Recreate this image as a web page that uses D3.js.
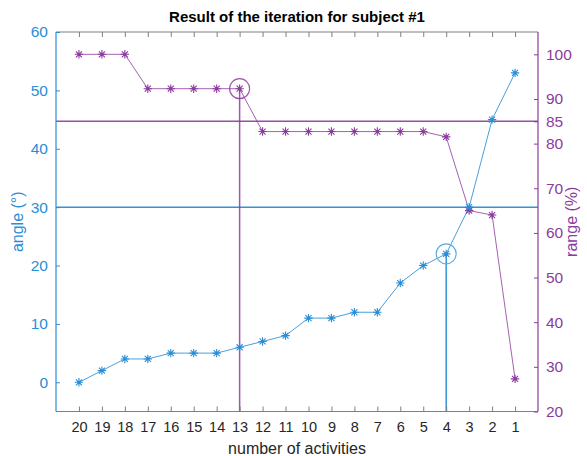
<!DOCTYPE html>
<html>
<head>
<meta charset="utf-8">
<script src="https://cdn.jsdelivr.net/npm/d3@7"></script>
<style>
  html, body { margin: 0; padding: 0; background: #fff; }
  svg { display: block; font-family: "Liberation Sans", Arial, Helvetica, sans-serif; }
</style>
</head>
<body>
<svg id="chart" width="587" height="456"></svg>
<script>
// Number of activities kept at each step (plotted right to left: 20 ... 1)
const activities = [20, 19, 18, 17, 16, 15, 14, 13, 12, 11, 10, 9, 8, 7, 6, 5, 4, 3, 2, 1];
// Angle (degrees) at each step
const angleValues = [0, 2, 4, 4, 5, 5, 5, 6, 7, 8, 11, 11, 12, 12, 17, 20, 22, 30, 45, 53];
// Range (%) at each step
const rangeValues = [100, 100, 100, 92.3, 92.3, 92.3, 92.3, 92.3, 82.7, 82.7, 82.7, 82.7, 82.7, 82.7, 82.7, 82.7, 81.5, 65, 64, 27.3];
// Thresholds and selected points
const angleThreshold = 30;
const rangeThreshold = 85;
const angleSelected = 4;
const rangeSelected = 13;
// Tick labels
const angleTicks = [0, 10, 20, 30, 40, 50, 60];
const rangeTicks = [20, 30, 40, 50, 60, 70, 80, 85, 90, 100];
const xTicks = activities;

const blue = "#2a8ed6";
const purple = "#8c3b9e";
const axisGray = "#808080";
const textDark = "#262626";

const svg = d3.select("#chart");
const plotL = 56, plotR = 538, plotT = 32, plotB = 411.5;

const x = d3.scaleLinear().domain([21, 0]).range([plotL, plotR]);
const yA = d3.scaleLinear().domain([-5, 60]).range([plotB, plotT]);
const yR = d3.scaleLinear().domain([20, 105]).range([plotB, plotT]);

// Threshold lines
svg.append("line").attr("x1", plotL).attr("x2", plotR)
  .attr("y1", yR(rangeThreshold)).attr("y2", yR(rangeThreshold))
  .attr("stroke", purple).attr("stroke-width", 1.5).attr("opacity", 0.9);
svg.append("line").attr("x1", plotL).attr("x2", plotR)
  .attr("y1", yA(angleThreshold)).attr("y2", yA(angleThreshold))
  .attr("stroke", blue).attr("stroke-width", 1.5).attr("opacity", 0.95);

// Drop lines from selected points
const ri = activities.indexOf(rangeSelected);
svg.append("line").attr("x1", x(rangeSelected)).attr("x2", x(rangeSelected))
  .attr("y1", yR(rangeValues[ri])).attr("y2", plotB)
  .attr("stroke", purple).attr("stroke-width", 1.5).attr("opacity", 0.85);
const ai = activities.indexOf(angleSelected);
svg.append("line").attr("x1", x(angleSelected)).attr("x2", x(angleSelected))
  .attr("y1", yA(angleValues[ai])).attr("y2", plotB)
  .attr("stroke", blue).attr("stroke-width", 1.5).attr("opacity", 0.95);

// Series lines
const lineA = d3.line().x((d, i) => x(activities[i])).y(d => yA(d));
const lineR = d3.line().x((d, i) => x(activities[i])).y(d => yR(d));
svg.append("path").datum(rangeValues).attr("d", lineR)
  .attr("fill", "none").attr("stroke", purple).attr("stroke-width", 1).attr("opacity", 0.8);
svg.append("path").datum(angleValues).attr("d", lineA)
  .attr("fill", "none").attr("stroke", blue).attr("stroke-width", 1).attr("opacity", 0.85);

// Asterisk markers
const s = 4.2, d = s * 0.72;
const asterisk = `M${-s},0L${s},0M0,${-s}L0,${s}M${-d},${-d}L${d},${d}M${-d},${d}L${d},${-d}`;
function markers(values, scale, color) {
  svg.append("g").selectAll("path").data(values).join("path")
    .attr("transform", (v, i) => `translate(${x(activities[i])},${scale(v)})`)
    .attr("d", asterisk)
    .attr("fill", "none").attr("stroke", color).attr("stroke-width", 1.1);
  svg.append("g").selectAll("circle").data(values).join("circle")
    .attr("cx", (v, i) => x(activities[i])).attr("cy", v => scale(v))
    .attr("r", 1.4).attr("fill", color);
}
markers(rangeValues, yR, purple);
markers(angleValues, yA, blue);

// Circles around the selected points
svg.append("circle").attr("cx", x(rangeSelected)).attr("cy", yR(rangeValues[ri]))
  .attr("r", 10).attr("fill", "none").attr("stroke", purple).attr("stroke-width", 1.2).attr("opacity", 0.85);
svg.append("circle").attr("cx", x(angleSelected)).attr("cy", yA(angleValues[ai]))
  .attr("r", 10).attr("fill", "none").attr("stroke", "#5aaee6").attr("stroke-width", 1.2);

// Bottom axis
const xAxis = d3.axisBottom(x).tickValues(xTicks).tickSize(-5).tickPadding(10).tickFormat(d3.format("d"));
const gx = svg.append("g").attr("transform", `translate(0,${plotB})`).call(xAxis);
gx.select(".domain").attr("stroke", axisGray).attr("d", `M${plotL},0H${plotR}`);
gx.selectAll(".tick line").attr("stroke", axisGray);
gx.selectAll("text").attr("fill", textDark).attr("font-size", 14.5).attr("font-family", null);

// Top axis (box edge)
const xTop = d3.axisTop(x).tickValues(xTicks).tickSize(-5).tickFormat("");
const gt = svg.append("g").attr("transform", `translate(0,${plotT})`).call(xTop);
gt.select(".domain").attr("stroke", axisGray).attr("d", `M${plotL},0H${plotR}`);
gt.selectAll(".tick line").attr("stroke", axisGray);

// Left axis (angle)
const yAxisL = d3.axisLeft(yA).tickValues(angleTicks).tickSize(-4).tickPadding(8);
const gl = svg.append("g").attr("transform", `translate(${plotL},0)`).call(yAxisL);
gl.select(".domain").attr("stroke", blue).attr("stroke-width", 1.2).attr("d", `M0,${plotT}V${plotB}`);
gl.selectAll(".tick line").attr("stroke", blue);
gl.selectAll("text").attr("fill", blue).attr("font-size", 15.5).attr("font-family", null);

// Right axis (range)
const yAxisR = d3.axisRight(yR).tickValues(rangeTicks).tickSize(-4).tickPadding(8);
const gr = svg.append("g").attr("transform", `translate(${plotR},0)`).call(yAxisR);
gr.select(".domain").attr("stroke", purple).attr("stroke-width", 1.2).attr("d", `M0,${plotT}V${plotB}`);
gr.selectAll(".tick line").attr("stroke", purple);
gr.selectAll("text").attr("fill", purple).attr("font-size", 15.5).attr("font-family", null);

// Titles and axis labels
svg.append("text").attr("x", 297).attr("y", 22).attr("text-anchor", "middle")
  .attr("font-size", 15).attr("font-weight", "bold").attr("fill", "#000")
  .text("Result of the iteration for subject #1");
svg.append("text").attr("x", (plotL + plotR) / 2).attr("y", 454).attr("text-anchor", "middle")
  .attr("font-size", 16).attr("fill", textDark).text("number of activities");
svg.append("text").attr("transform", `translate(23,${(plotT + plotB) / 2}) rotate(-90)`)
  .attr("text-anchor", "middle").attr("font-size", 16).attr("fill", blue).text("angle (°)");
svg.append("text").attr("transform", `translate(577,${(plotT + plotB) / 2}) rotate(-90)`)
  .attr("text-anchor", "middle").attr("font-size", 16).attr("fill", purple).text("range (%)");
</script>
</body>
</html>
